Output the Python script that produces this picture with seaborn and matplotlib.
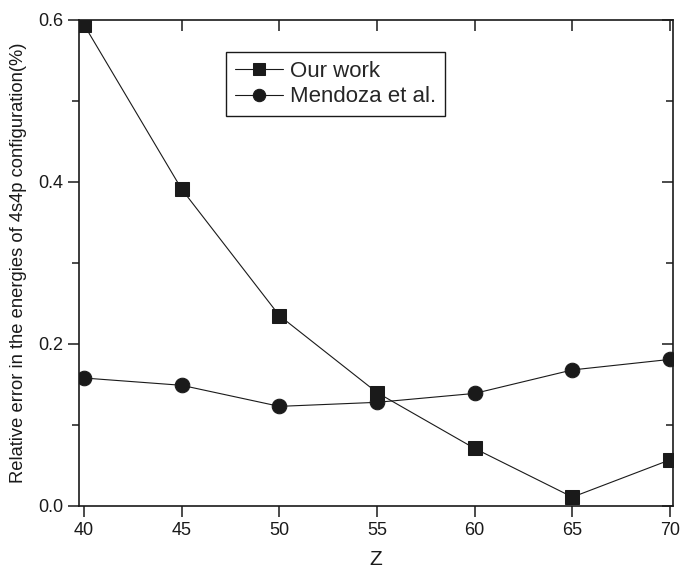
import numpy as np
import pandas as pd
import matplotlib
matplotlib.use("Agg")
import matplotlib.pyplot as plt
import seaborn as sns
from matplotlib.ticker import MultipleLocator

# ===============================
# DATA
# ===============================
Z = [40, 45, 50, 55, 60, 65, 70]
our_work = [0.594, 0.391, 0.235, 0.140, 0.071, 0.011, 0.057]
mendoza = [0.158, 0.149, 0.123, 0.128, 0.139, 0.168, 0.181]

sns.set_style("ticks")
plt.rcParams['font.family'] = ['Liberation Sans', 'DejaVu Sans']

df_our = pd.DataFrame({'Z': Z, 'err': our_work})
df_men = pd.DataFrame({'Z': Z, 'err': mendoza})

fig = plt.figure(figsize=(6.83, 5.73), dpi=100)
ax = fig.add_axes([79 / 683, 1 - 506 / 573, 594 / 683, 486 / 573])

ink = '#1a1a1a'
sns.lineplot(data=df_our, x='Z', y='err', ax=ax, color=ink, linewidth=0.8,
             marker='s', markersize=10, markeredgecolor=ink, label='Our work')
sns.lineplot(data=df_men, x='Z', y='err', ax=ax, color=ink, linewidth=0.8,
             marker='o', markersize=10.5, markeredgecolor=ink, label='Mendoza et al.')

ax.set_xlim(39.74, 70.15)
ax.set_ylim(0, 0.6)
ax.xaxis.set_major_locator(MultipleLocator(5))
ax.yaxis.set_major_locator(MultipleLocator(0.2))
ax.yaxis.set_minor_locator(MultipleLocator(0.1))
ax.yaxis.set_major_formatter(matplotlib.ticker.FormatStrFormatter('%.1f'))

for s in ax.spines.values():
    s.set_linewidth(1.2)
    s.set_color(ink)

ax.tick_params(which='both', direction='out', length=8, width=1.1, color=ink,
               labelsize=13, labelcolor=ink)
ax.tick_params(which='minor', length=5)
# mirrored ticks on top and right, pointing inward
ax.tick_params(which='both', top=True, right=True)
for t in ax.xaxis.get_major_ticks():
    t.tick2line.set_marker(matplotlib.lines.TICKDOWN)
for t in ax.yaxis.get_major_ticks() + ax.yaxis.get_minor_ticks():
    t.tick2line.set_marker(matplotlib.lines.TICKLEFT)

ax.set_xlabel('Z', fontsize=15, color=ink, labelpad=8)
ax.set_ylabel('Relative error in the energies of 4s4p configuration(%)',
              fontsize=13.2, color=ink, labelpad=8)

leg = ax.legend(loc='upper left', bbox_to_anchor=(0.247, 0.934), borderaxespad=0,
                fontsize=16, handlelength=2.2, handletextpad=0.3, labelspacing=0.2,
                borderpad=0.4, fancybox=False, edgecolor=ink, framealpha=1,
                markerscale=0.85)
leg.get_frame().set_linewidth(1.0)

fig.savefig('out.png', dpi=100)
